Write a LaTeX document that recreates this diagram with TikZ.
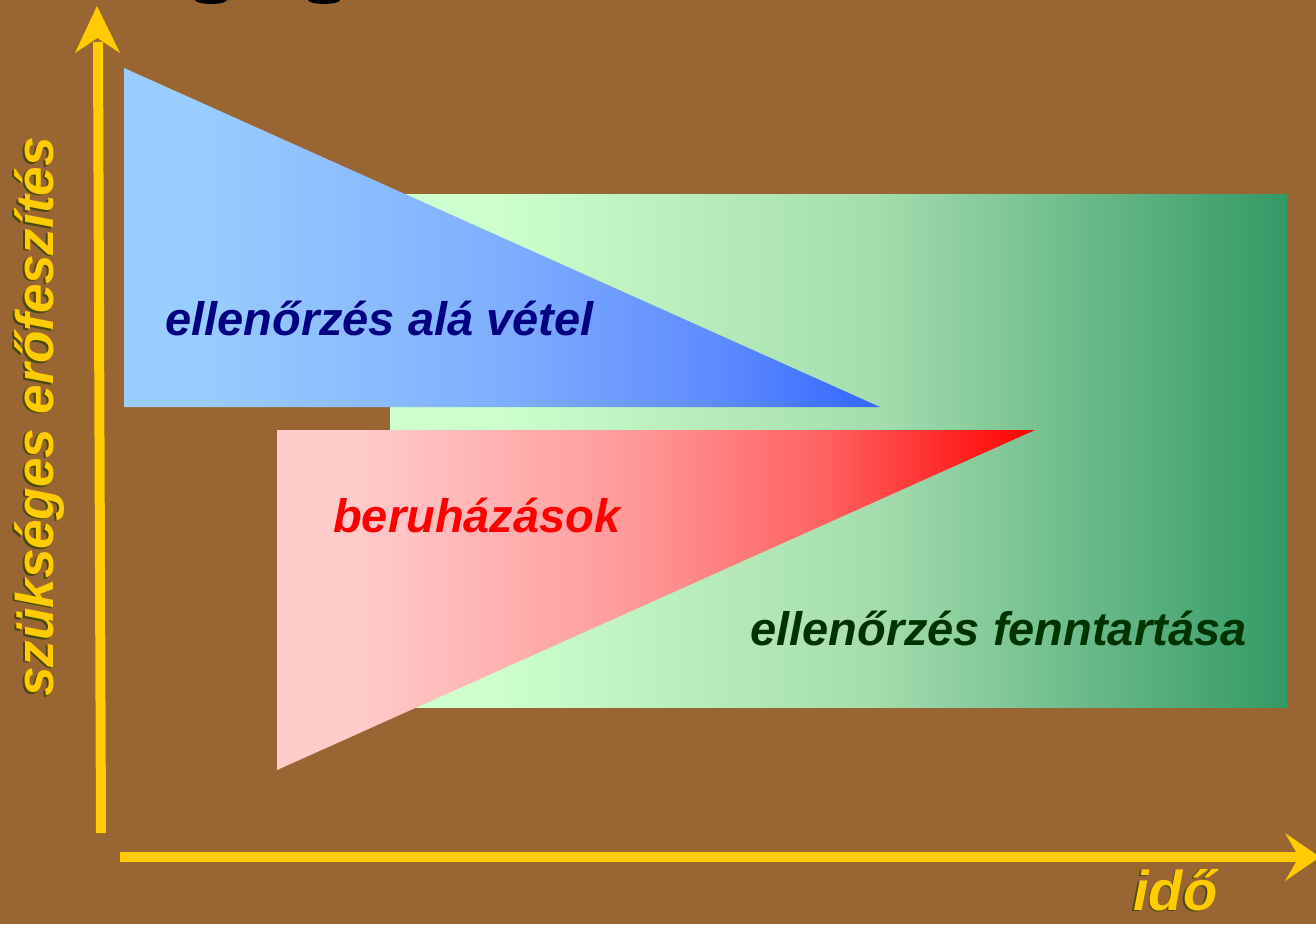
\documentclass[tikz,border=0pt]{standalone}
\usepackage{fontspec}
\setmainfont{Liberation Sans}
\definecolor{bg}{HTML}{996633}
\definecolor{axis}{HTML}{FFCC00}
\definecolor{shadowc}{HTML}{4A4A10}
\definecolor{gl}{HTML}{CCFFCC}
\definecolor{gm}{HTML}{A5DDAE}
\definecolor{gd}{HTML}{339966}
\definecolor{bl}{HTML}{99CCFF}
\definecolor{bm}{HTML}{80AEFF}
\definecolor{bm2}{HTML}{5F8CFF}
\definecolor{bd}{HTML}{3366FF}
\definecolor{rl}{HTML}{FFCCCC}
\definecolor{rm}{HTML}{FF9C9C}
\definecolor{rm2}{HTML}{FF6262}
\definecolor{rd}{HTML}{FF0000}
\definecolor{navytext}{HTML}{000080}
\definecolor{greentext}{HTML}{003300}
\pgfdeclarehorizontalshading{greenshade}{100bp}{color(0bp)=(gl); color(25bp)=(gl); color(31bp)=(gl); color(52bp)=(gm); color(75bp)=(gd); color(100bp)=(gd)}
\pgfdeclarehorizontalshading{blueshade}{100bp}{color(0bp)=(bl); color(25bp)=(bl); color(30bp)=(bl); color(50bp)=(bm); color(64bp)=(bm2); color(75bp)=(bd); color(100bp)=(bd)}
\pgfdeclarehorizontalshading{redshade}{100bp}{color(0bp)=(rl); color(25bp)=(rl); color(30bp)=(rl); color(47.5bp)=(rm); color(61bp)=(rm2); color(75bp)=(rd); color(100bp)=(rd)}
\tikzset{
  lbl/.style={inner sep=0pt, anchor=base west, font=\fontsize{47}{47}\selectfont\bfseries\itshape},
  ylbl/.style={inner sep=0pt, anchor=base west, text=axis},
  ylblsh/.style={inner sep=0pt, anchor=base west, text=shadowc},
  axline/.style={draw=axis, line width=10pt},
}
\begin{document}
\begin{tikzpicture}[x=1pt,y=-1pt]
\useasboundingbox (0,0) rectangle (1316,924);
\clip (0,0) rectangle (1316,924);
\fill[bg] (0,0) rectangle (1316,924);
% cut-off marks at top
\fill[black] (211,0) ellipse (16 and 4);
\fill[black] (324,0) ellipse (16 and 4);
% green rectangle
\shade[shading=greenshade] (390,194) rectangle (1287,707);
% blue triangle
\shade[shading=blueshade] (124,68) -- (880,407) -- (124,407) -- cycle;
% red triangle
\shade[shading=redshade] (277,430) -- (1035,430) -- (277,770) -- cycle;
% labels
\node[lbl, text=navytext] (t1) at (165,335) {ellenőrzés alá vétel};
\node[lbl, text=rd] (t2) at (333,532) {beruházások};
\node[lbl, text=greentext] (t3) at (750,645) {ellenőrzés fenntartása};
% axes
\coordinate (yb) at (101,833);
\coordinate (yt) at (98,42);
\draw[axline] (yb) -- (yt);
\fill[axis] (97,6) -- (120,53) -- (97.5,38) -- (75,53) -- cycle;
\coordinate (xl) at (120,857);
\coordinate (xr) at (1300,857);
\draw[axline] (xl) -- (xr);
\fill[axis] (1320,857) -- (1285,833) -- (1299,857) -- (1285,881) -- cycle;
% axis labels
\node[ylblsh, rotate=90, font=\fontsize{53}{53}\selectfont\bfseries\itshape] (ylabsh) at (51.5,698.5) {szükséges erőfeszítés};
\node[ylbl, rotate=90, font=\fontsize{53}{53}\selectfont\bfseries\itshape] (ylab) at (53,697) {szükséges erőfeszítés};
\node[ylblsh, font=\fontsize{56}{56}\selectfont\bfseries\itshape] (xlabsh) at (1131.5,911.5) {idő};
\node[ylbl, font=\fontsize{56}{56}\selectfont\bfseries\itshape] (xlab) at (1133,910) {idő};
\end{tikzpicture}
\end{document}
